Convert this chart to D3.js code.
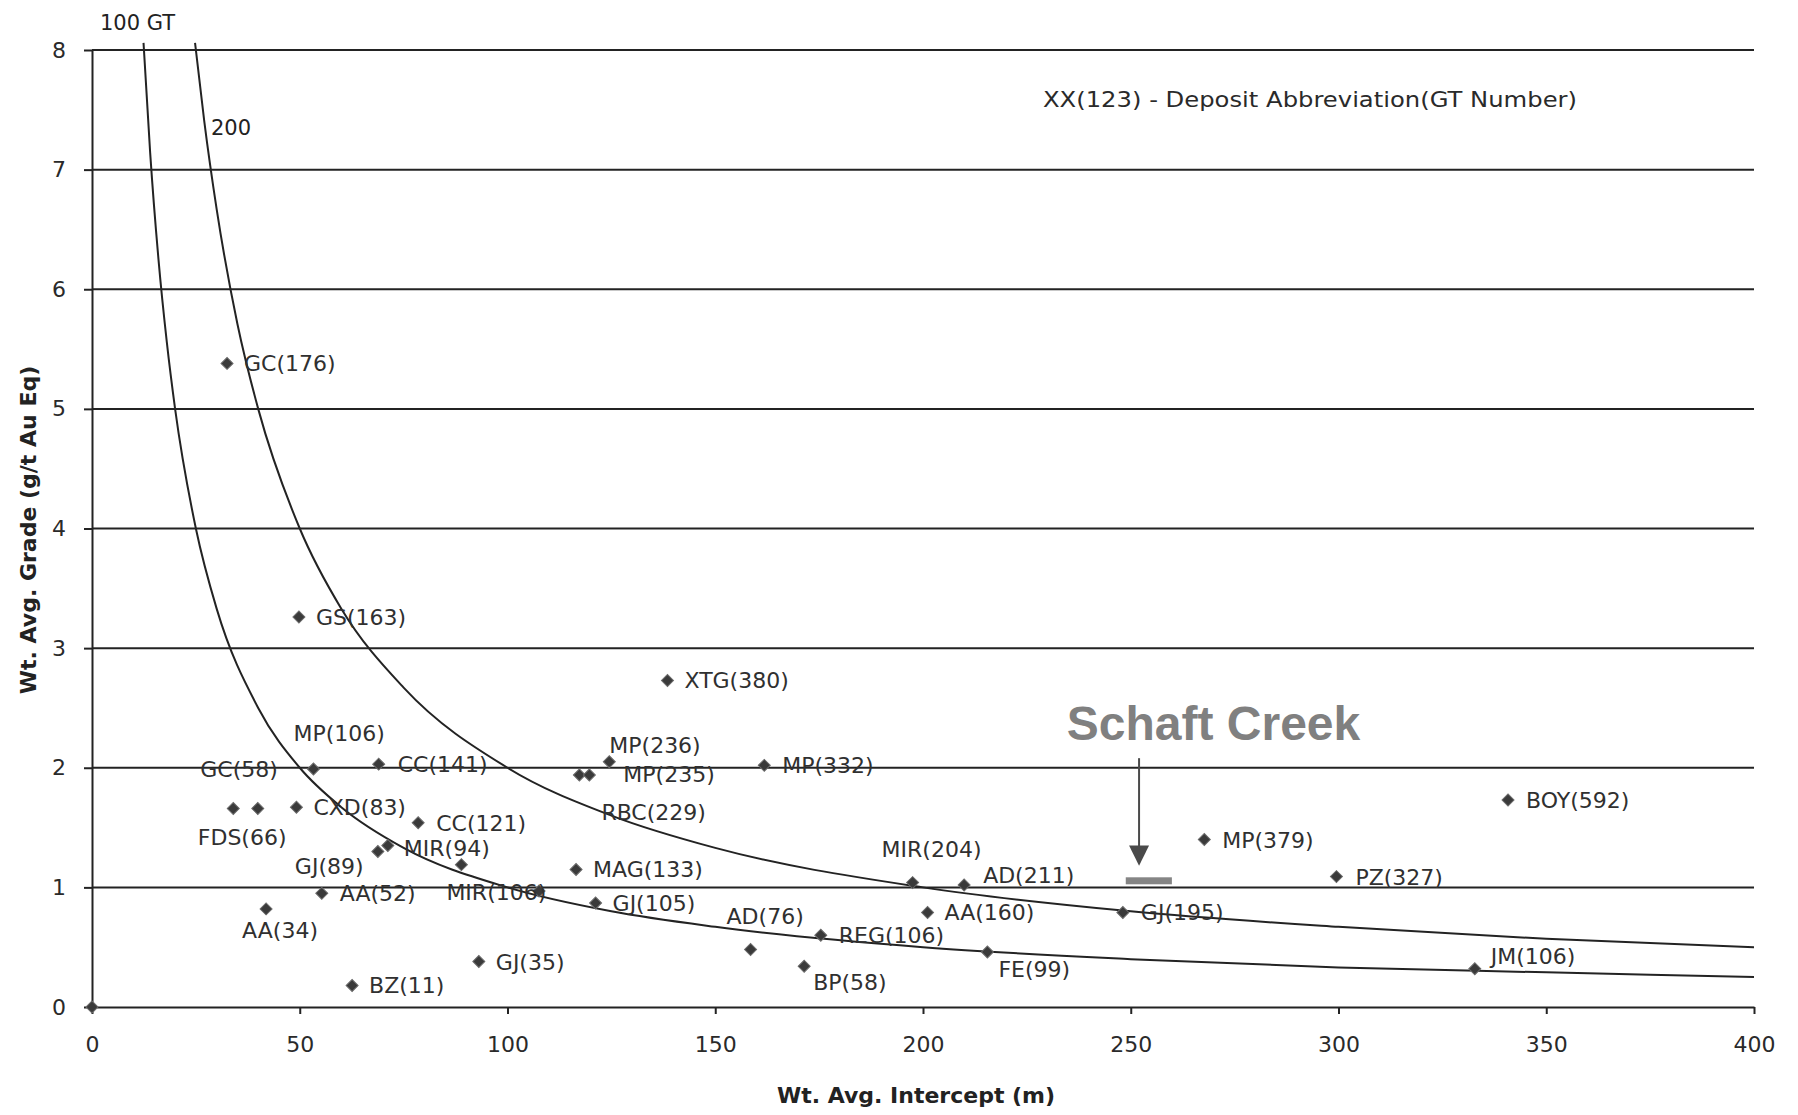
<!DOCTYPE html>
<html>
<head>
<meta charset="utf-8">
<script src="https://cdn.jsdelivr.net/npm/d3@7"></script>
<style>
  html, body { margin: 0; padding: 0; background: #fff; }
  svg { display: block; }
</style>
</head>
<body>
<svg id="chart" width="1798" height="1115"></svg>
<script>
// ---------------- data ----------------
const deposits = ['', 'GC(176)', 'GS(163)', 'XTG(380)', 'MP(106)', 'CC(141)', 'GC(58)', 'FDS(66)', 'CXD(83)', 'CC(121)',
  'GJ(89)', 'MIR(94)', 'MIR(106)', '', 'AA(52)', 'AA(34)', 'GJ(35)', 'BZ(11)', 'RBC(229)', 'MP(235)', 'MP(236)',
  'MP(332)', 'MAG(133)', 'GJ(105)', 'AD(76)', 'REG(106)', 'BP(58)', 'MIR(204)', 'AD(211)', 'AA(160)', 'GJ(195)',
  'FE(99)', 'MP(379)', 'PZ(327)', 'BOY(592)', 'JM(106)'];
const intercept = [0, 32.5, 49.8, 138.5, 53.3, 69.0, 34.0, 39.9, 49.2, 78.5,
  68.8, 71.2, 88.9, 107.6, 55.3, 41.9, 93.1, 62.6, 117.3, 119.7, 124.5,
  161.8, 116.5, 121.2, 158.5, 175.4, 171.4, 197.5, 209.9, 201.1, 248.1,
  215.5, 267.7, 299.5, 340.8, 332.8];
const grade = [0, 5.38, 3.26, 2.73, 1.99, 2.03, 1.66, 1.66, 1.67, 1.54,
  1.30, 1.35, 1.19, 0.97, 0.95, 0.82, 0.38, 0.18, 1.94, 1.94, 2.05,
  2.02, 1.15, 0.87, 0.48, 0.60, 0.34, 1.04, 1.02, 0.79, 0.79,
  0.46, 1.40, 1.09, 1.73, 0.32];

// GT iso-lines
const gt100X = [12.4, 14, 16, 18, 20, 25, 30, 40, 50, 60, 75, 100, 125, 150, 200, 250, 300, 350, 400];
const gt100Y = [8.06, 7.14, 6.25, 5.56, 5.0, 4.0, 3.33, 2.5, 2.0, 1.67, 1.33, 1.0, 0.8, 0.67, 0.5, 0.4, 0.33, 0.29, 0.25];
const gt200X = [24.8, 27, 30, 35, 40, 50, 60, 75, 100, 125, 150, 200, 250, 300, 350, 400];
const gt200Y = [8.06, 7.41, 6.67, 5.71, 5.0, 4.0, 3.33, 2.67, 2.0, 1.6, 1.33, 1.0, 0.8, 0.67, 0.57, 0.5];

// Schaft Creek range
const schaftX = [248.8, 259.9];
const schaftY = 1.055;

const xTicks = [0, 50, 100, 150, 200, 250, 300, 350, 400];
const yTicks = [0, 1, 2, 3, 4, 5, 6, 7, 8];

// label offsets (pixels) from each marker: [dx, dy]
const labelOffsets = [null, [17, 8], [17, 8], [17, 8], [-20, -28], [19, 8], [-33, -31], [-60, 37], [17, 8], [18, 8],
  [-83, 23], [16, 10], [-15, 35], null, [18, 8], [-24, 29], [17, 8], [17, 8], [22, 45], [34, 7], [0, -9],
  [18, 8], [17, 8], [17, 8], [-24, -26], [18, 8], [9, 24], [-31, -26], [19, -2], [17, 8], [18, 8],
  [11, 25], [18, 8], [19, 8], [18, 8], [16, -5]];

// ---------------- chart ----------------
const svg = d3.select('#chart');
const x = d3.scaleLinear().domain([0, 400]).range([92, 1754]);
const y = d3.scaleLinear().domain([0, 8]).range([1007, 50]);
const ink = '#232323';

// gridlines
svg.append('g').selectAll('line').data(yTicks.filter(d => d > 0)).join('line')
  .attr('x1', x(0)).attr('x2', x(400))
  .attr('y1', d => y(d)).attr('y2', d => y(d))
  .attr('stroke', ink).attr('stroke-width', 2);

// axes
const yAxis = svg.append('g').attr('transform', `translate(${x(0)},0)`)
  .call(d3.axisLeft(y).tickValues(yTicks).tickSize(8).tickSizeOuter(0).tickPadding(18).tickFormat(d3.format('d')));
const xAxis = svg.append('g').attr('transform', `translate(0,${y(0)})`)
  .call(d3.axisBottom(x).tickValues(xTicks).tickSize(7).tickSizeOuter(0).tickPadding(22).tickFormat(d3.format('d')));
[yAxis, xAxis].forEach(a => {
  a.select('.domain').attr('stroke', ink).attr('stroke-width', 2);
  a.selectAll('.tick line').attr('stroke', ink).attr('stroke-width', 2);
  a.selectAll('.tick text').attr('fill', '#2a2a2a')
    .style('font-family', '"DejaVu Sans", sans-serif').style('font-size', '22px');
});

// GT curves
const line = d3.line().x(d => x(d[0])).y(d => y(d[1])).curve(d3.curveMonotoneX);
[[gt100X, gt100Y], [gt200X, gt200Y]].forEach(([xs, ys]) => {
  svg.append('path').datum(xs.map((v, i) => [v, ys[i]]))
    .attr('d', line).attr('fill', 'none').attr('stroke', ink).attr('stroke-width', 2);
});

// curve labels
svg.append('text').attr('x', 100).attr('y', 30).text('100 GT')
  .style('font-family', '"DejaVu Sans", sans-serif').style('font-size', '21px').attr('fill', '#222');
svg.append('text').attr('x', 211).attr('y', 135).text('200')
  .style('font-family', '"DejaVu Sans", sans-serif').style('font-size', '21px').attr('fill', '#222');

// markers (regular diamonds)
const pts = deposits.map((n, i) => ({ name: n, x: intercept[i], y: grade[i], off: labelOffsets[i] }));
svg.append('g').selectAll('path').data(pts).join('path')
  .attr('transform', d => `translate(${x(d.x)},${y(d.y)}) rotate(45)`)
  .attr('d', d3.symbol(d3.symbolSquare, 72))
  .attr('fill', '#3a3a3a').attr('stroke', '#6a6a6a').attr('stroke-width', 1);

// labels
svg.append('g').selectAll('text').data(pts.filter(d => d.name)).join('text')
  .attr('x', d => x(d.x) + d.off[0]).attr('y', d => y(d.y) + d.off[1])
  .text(d => d.name)
  .attr('fill', '#303030')
  .style('font-family', '"DejaVu Sans", sans-serif').style('font-size', '22px');

// Schaft Creek
svg.append('rect')
  .attr('x', x(schaftX[0])).attr('width', x(schaftX[1]) - x(schaftX[0]))
  .attr('y', y(schaftY) - 3.5).attr('height', 7).attr('fill', '#858585');
const ax = x(252.0);
svg.append('line').attr('x1', ax).attr('x2', ax).attr('y1', y(2.08)).attr('y2', y(1.34))
  .attr('stroke', '#4a4a4a').attr('stroke-width', 2);
svg.append('path')
  .attr('d', `M${ax - 10},${y(1.35)} L${ax + 10},${y(1.35)} L${ax},${y(1.18)} Z`)
  .attr('fill', '#4a4a4a');
svg.append('text').attr('x', x(234.6)).attr('y', y(2.23)).text('Schaft Creek')
  .attr('fill', '#808080')
  .style('font-family', '"Liberation Sans", Arial, sans-serif').style('font-weight', 'bold').style('font-size', '48px');

// legend note
svg.append('text').attr('x', 1043).attr('y', 107)
  .text('XX(123) - Deposit Abbreviation(GT Number)')
  .attr('textLength', 534).attr('lengthAdjust', 'spacingAndGlyphs')
  .attr('fill', '#2a2a2a')
  .style('font-family', '"DejaVu Sans", sans-serif').style('font-size', '22px');

// axis titles
svg.append('text').attr('x', 916).attr('y', 1103).attr('text-anchor', 'middle')
  .text('Wt. Avg. Intercept (m)').attr('fill', '#222')
  .style('font-family', '"DejaVu Sans", sans-serif').style('font-weight', 'bold').style('font-size', '22px');
svg.append('text').attr('transform', 'translate(36,530) rotate(-90)').attr('text-anchor', 'middle')
  .text('Wt. Avg. Grade (g/t Au Eq)').attr('fill', '#222')
  .style('font-family', '"DejaVu Sans", sans-serif').style('font-weight', 'bold').style('font-size', '22px');
</script>
</body>
</html>
